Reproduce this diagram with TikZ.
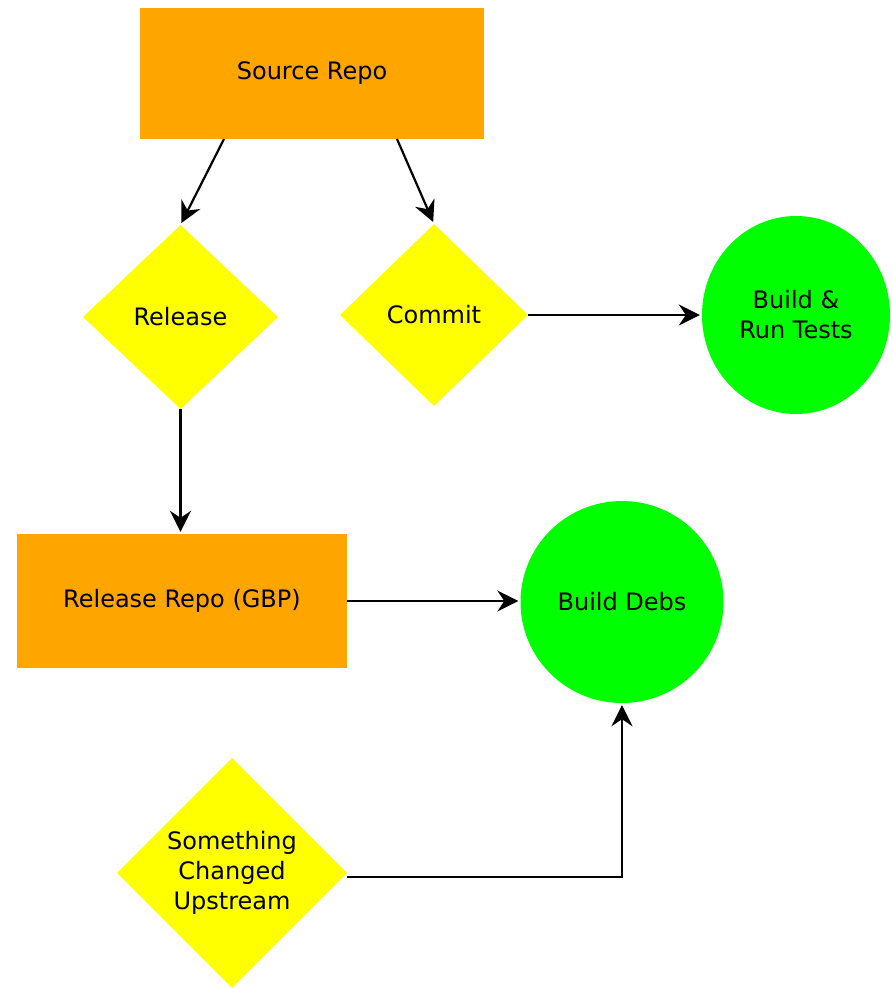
\documentclass[tikz,border=0pt]{standalone}
\usepackage{fontspec}
\setmainfont{DejaVu Sans}
\usetikzlibrary{shapes.geometric,arrows.meta}
\definecolor{orangebox}{HTML}{FFA500}
\definecolor{yellowd}{HTML}{FFFF00}
\definecolor{greenc}{HTML}{00FF00}
\begin{document}
\begin{tikzpicture}[x=1pt,y=-1pt,
  every node/.style={font=\fontsize{24}{30}\selectfont, align=center, inner sep=0pt},
  repo/.style={rectangle, fill=orangebox},
  decision/.style={diamond, fill=yellowd},
  action/.style={ellipse, fill=greenc},
  conn/.style={line width=2.2pt, -{Stealth[length=21pt,width=21pt,inset=7pt]}, shorten >=2pt}]
\useasboundingbox (0,0) rectangle (892,988);
\node[repo, minimum width=344pt, minimum height=131pt] (src) at (312,73.5) {Source Repo};
\node[decision, minimum width=195pt, minimum height=184pt] (rel) at (180.5,317) {Release};
\node[decision, minimum width=188pt, minimum height=182pt] (com) at (434,315) {Commit};
\node[action, minimum width=188pt, minimum height=198pt] (brt) at (796,315) {Build \&\\Run Tests};
\node[repo, minimum width=330pt, minimum height=134pt] (rrepo) at (182,601) {Release Repo (GBP)};
\node[action, minimum width=203pt, minimum height=202pt] (bd) at (622,602) {Build Debs};
\node[decision, minimum width=230pt, minimum height=230pt] (up) at (232,873) {Something\\Changed\\Upstream};
\coordinate (c1) at (224,139);
\coordinate (c2) at (397,139);
\coordinate (corner) at (622,877);
\draw[conn] (c1) -- (rel.north);
\draw[conn] (c2) -- (com.north);
\draw[conn] (com.east) -- (brt.west);
\draw[conn] (rel.south) -- (rel.south |- rrepo.north);
\draw[conn] (rrepo.east) -- (rrepo.east -| bd.west);
\draw[conn] (up.east |- corner) -- (corner) -- (bd.south);
\end{tikzpicture}
\end{document}
